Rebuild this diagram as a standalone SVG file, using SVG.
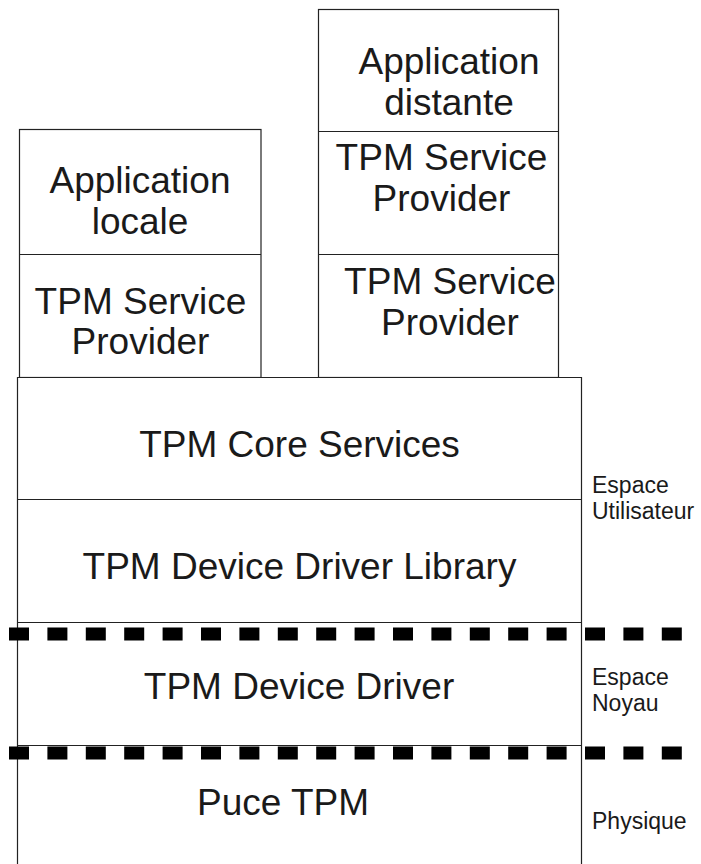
<svg xmlns="http://www.w3.org/2000/svg" width="701" height="864" viewBox="0 0 701 864">
<style>
.box{fill:#fff;stroke:#222;stroke-width:1.2}
.ln{stroke:#222;stroke-width:1.2;fill:none}
.t{font-family:"Liberation Sans",Arial,sans-serif;font-size:37px;fill:#1a1a1a;text-anchor:middle}
.s{font-family:"Liberation Sans",Arial,sans-serif;font-size:23px;fill:#1a1a1a}
.dash{stroke:#000;stroke-width:13;stroke-dasharray:20 18.4;fill:none}
</style>
<rect width="701" height="864" fill="#fff"/>
<g id="left-stack">
<rect class="box" x="19.5" y="129.5" width="241.5" height="248"/>
<line class="ln" x1="19.5" y1="254.5" x2="261" y2="254.5"/>
<text class="t" x="140" y="193">Application</text>
<text class="t" x="140" y="233.5">locale</text>
<text class="t" x="140.5" y="313.5">TPM Service</text>
<text class="t" x="140.5" y="353.5">Provider</text>
</g>
<g id="right-stack">
<rect class="box" x="318.5" y="9.5" width="240" height="368"/>
<line class="ln" x1="318.5" y1="131.5" x2="558.5" y2="131.5"/>
<line class="ln" x1="318.5" y1="254.5" x2="558.5" y2="254.5"/>
<text class="t" x="449" y="74">Application</text>
<text class="t" x="449" y="115">distante</text>
<text class="t" x="441.5" y="170">TPM Service</text>
<text class="t" x="441.5" y="210.5">Provider</text>
<text class="t" x="450" y="293.5">TPM Service</text>
<text class="t" x="450" y="334.5">Provider</text>
</g>
<g id="core-services">
<path class="ln" d="M17.5 870 V377.5 H581.5 V870" style="fill:#fff"/>
<text class="t" x="299.5" y="456.5">TPM Core Services</text>
</g>
<g id="device-driver-library">
<line class="ln" x1="17.5" y1="499.5" x2="581.5" y2="499.5"/>
<text class="t" x="299.5" y="579">TPM Device Driver Library</text>
</g>
<g id="device-driver">
<line class="ln" x1="17.5" y1="622.5" x2="581.5" y2="622.5"/>
<text class="t" x="299" y="698.5">TPM Device Driver</text>
</g>
<g id="puce-tpm">
<line class="ln" x1="17.5" y1="745.5" x2="581.5" y2="745.5"/>
<text class="t" x="283" y="815">Puce TPM</text>
</g>
<g id="connectors">
<line class="dash" x1="9" y1="634" x2="683" y2="634"/>
<line class="dash" x1="9" y1="753" x2="683" y2="753"/>
</g>
<g id="labels">
<text class="s" x="592" y="493">Espace</text>
<text class="s" x="592" y="519">Utilisateur</text>
<text class="s" x="592" y="684.5">Espace</text>
<text class="s" x="592" y="711">Noyau</text>
<text class="s" x="592" y="829">Physique</text>
</g>
</svg>
